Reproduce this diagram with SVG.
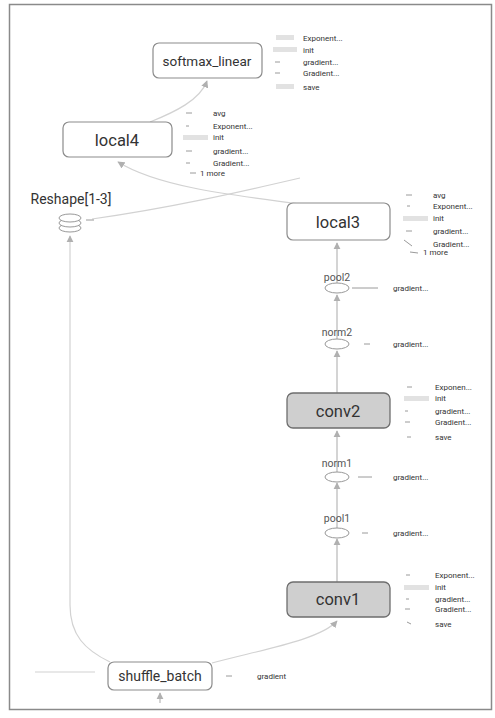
<svg xmlns="http://www.w3.org/2000/svg" width="495" height="718" viewBox="0 0 495 718">
<defs>
<style>
.frame{fill:#fff;stroke:#8a8a8a;stroke-width:1.5}
.box{fill:#fff;stroke:#8c8c8c;stroke-width:1.2}
.gbox{fill:#cfcfcf;stroke:#6e6e6e;stroke-width:1.3}
.big{font-family:Roboto,"Liberation Sans",sans-serif;fill:#333;text-anchor:middle}
.op{font-family:Roboto,"Liberation Sans",sans-serif;font-size:10.5px;fill:#555;text-anchor:middle}
.aux{font-family:Roboto,"Liberation Sans",sans-serif;font-size:8px;fill:#333}
.edge{fill:none;stroke:#b8b8b8;stroke-width:1.2}
.faint{fill:none;stroke:#d2d2d2;stroke-width:1.2}
.ico{fill:#e2e2e2}
.dash{stroke:#9a9a9a;stroke-width:1}
.ell{fill:#fff;stroke:#999;stroke-width:1}
</style>
<marker id="ah" viewBox="0 0 10 10" refX="9" refY="5" markerWidth="6" markerHeight="6" orient="auto">
<path d="M0,0 L10,5 L0,10 z" fill="#b0b0b0"/>
</marker>
</defs>
<rect class="frame" x="9.5" y="4.5" width="482" height="705"/>

<g id="connectors">
<path class="edge" d="M337,582 L337,539" marker-end="url(#ah)"/>
<path class="edge" d="M337,528 L337,483" marker-end="url(#ah)"/>
<path class="edge" d="M337,472 L337,431" marker-end="url(#ah)"/>
<path class="edge" d="M337,393 L337,351" marker-end="url(#ah)"/>
<path class="edge" d="M337,339 L337,295" marker-end="url(#ah)"/>
<path class="edge" d="M337,283 L337,243" marker-end="url(#ah)"/>
<path class="faint" d="M212,663 C260,650 320,640 337,621" marker-end="url(#ah)"/>
<path class="faint" d="M110,662 C85,650 70,635 70,605 L70,236" marker-end="url(#ah)"/>
<path class="faint" d="M92,219 C170,208 240,192 300,178"/>
<path class="faint" d="M300,204 C240,196 160,188 118,162" marker-end="url(#ah)"/>
<path class="faint" d="M150,122 C175,112 200,100 207,81" marker-end="url(#ah)"/>
<path class="faint" d="M35,672 L95,672"/>
<path class="edge" d="M160,703 L160,693" marker-end="url(#ah)"/>
</g>

<g id="softmax_linear">
<rect class="box" x="153" y="43" width="109" height="35" rx="6"/>
<text class="big" x="207" y="66" font-size="13.5">softmax_linear</text>
<g class="aux">
<rect class="ico" x="276" y="35" width="18" height="5"/><text x="303" y="41">Exponent...</text>
<rect class="ico" x="273" y="47" width="24" height="5"/><text x="303" y="53">init</text>
<line class="dash" x1="275" y1="62" x2="280" y2="62"/><text x="303" y="65">gradient...</text>
<line class="dash" x1="275" y1="73" x2="280" y2="73"/><text x="303" y="76">Gradient...</text>
<rect class="ico" x="276" y="84" width="18" height="5"/><text x="303" y="90">save</text>
</g>
</g>

<g id="local4">
<rect class="box" x="63" y="122" width="109" height="35" rx="6"/>
<text class="big" x="117" y="146" font-size="16.5">local4</text>
<g class="aux">
<line class="dash" x1="186" y1="113" x2="192" y2="113"/><text x="213" y="116">avg</text>
<line class="dash" x1="186" y1="126" x2="189" y2="126"/><text x="213" y="129">Exponent...</text>
<rect class="ico" x="183" y="135" width="25" height="5"/><text x="213" y="140">init</text>
<line class="dash" x1="186" y1="151" x2="192" y2="151"/><text x="213" y="154">gradient...</text>
<line class="dash" x1="186" y1="163" x2="190" y2="163"/><text x="213" y="166">Gradient...</text>
<line class="dash" x1="190" y1="173" x2="196" y2="173"/><text x="200" y="176">1 more</text>
</g>
</g>

<g id="Reshape">
<text class="big" x="71" y="204" font-size="14">Reshape[1-3]</text>
<ellipse class="ell" cx="70" cy="228" rx="11" ry="4"/>
<ellipse class="ell" cx="70" cy="223" rx="11" ry="4"/>
<ellipse class="ell" cx="70" cy="218" rx="11" ry="4"/>
<line class="dash" x1="86" y1="220" x2="94" y2="220"/>
</g>

<g id="local3">
<rect class="box" x="287" y="203" width="103" height="37" rx="6"/>
<text class="big" x="338" y="228" font-size="16.5">local3</text>
<g class="aux">
<line class="dash" x1="406" y1="195" x2="412" y2="195"/><text x="433" y="198">avg</text>
<line class="dash" x1="407" y1="206" x2="410" y2="206"/><text x="433" y="209">Exponent...</text>
<rect class="ico" x="403" y="216" width="25" height="5"/><text x="433" y="221">init</text>
<line class="dash" x1="406" y1="231" x2="412" y2="231"/><text x="433" y="234">gradient...</text>
<line class="dash" x1="404" y1="240" x2="412" y2="246"/><text x="433" y="247">Gradient...</text>
<line class="dash" x1="410" y1="252" x2="418" y2="253"/><text x="423" y="255">1 more</text>
</g>
</g>

<g id="pool2">
<text class="op" x="337" y="281">pool2</text>
<ellipse class="ell" cx="337" cy="288" rx="12" ry="5"/>
<line class="dash" x1="352" y1="288" x2="378" y2="288"/>
<text class="aux" x="393" y="291">gradient...</text>
</g>

<g id="norm2">
<text class="op" x="337" y="336">norm2</text>
<ellipse class="ell" cx="337" cy="344" rx="12" ry="5"/>
<line class="dash" x1="364" y1="344" x2="370" y2="344"/>
<text class="aux" x="393" y="347">gradient...</text>
</g>

<g id="conv2">
<rect class="gbox" x="287" y="393" width="103" height="35" rx="6"/>
<text class="big" x="338" y="417" font-size="16.5">conv2</text>
<g class="aux">
<line class="dash" x1="407" y1="387" x2="412" y2="387"/><text x="435" y="390">Exponen...</text>
<rect class="ico" x="404" y="396" width="25" height="5"/><text x="435" y="401">init</text>
<line class="dash" x1="405" y1="411" x2="408" y2="411"/><text x="435" y="414">gradient...</text>
<line class="dash" x1="405" y1="422" x2="410" y2="422"/><text x="435" y="425">Gradient...</text>
<line class="dash" x1="407" y1="437" x2="411" y2="437"/><text x="435" y="440">save</text>
</g>
</g>

<g id="norm1">
<text class="op" x="337" y="467">norm1</text>
<ellipse class="ell" cx="337" cy="477" rx="12" ry="5"/>
<line class="dash" x1="358" y1="477" x2="372" y2="477"/>
<text class="aux" x="393" y="480">gradient...</text>
</g>

<g id="pool1">
<text class="op" x="337" y="522">pool1</text>
<ellipse class="ell" cx="337" cy="533" rx="12" ry="5"/>
<line class="dash" x1="362" y1="533" x2="368" y2="533"/>
<text class="aux" x="393" y="536">gradient...</text>
</g>

<g id="conv1">
<rect class="gbox" x="287" y="582" width="103" height="35" rx="6"/>
<text class="big" x="338" y="605" font-size="16.5">conv1</text>
<g class="aux">
<line class="dash" x1="406" y1="575" x2="410" y2="575"/><text x="435" y="578">Exponent...</text>
<rect class="ico" x="404" y="585" width="25" height="5"/><text x="435" y="590">init</text>
<line class="dash" x1="406" y1="599" x2="409" y2="599"/><text x="435" y="602">gradient...</text>
<line class="dash" x1="405" y1="609" x2="410" y2="609"/><text x="435" y="612">Gradient...</text>
<line class="dash" x1="407" y1="622" x2="411" y2="624"/><text x="435" y="627">save</text>
</g>
</g>

<g id="shuffle_batch">
<rect class="box" x="108" y="662" width="104" height="28" rx="6"/>
<text class="big" x="160" y="681" font-size="14">shuffle_batch</text>
<line class="dash" x1="226" y1="676" x2="232" y2="676"/>
<text class="aux" x="257" y="679">gradient</text>
</g>
</svg>
